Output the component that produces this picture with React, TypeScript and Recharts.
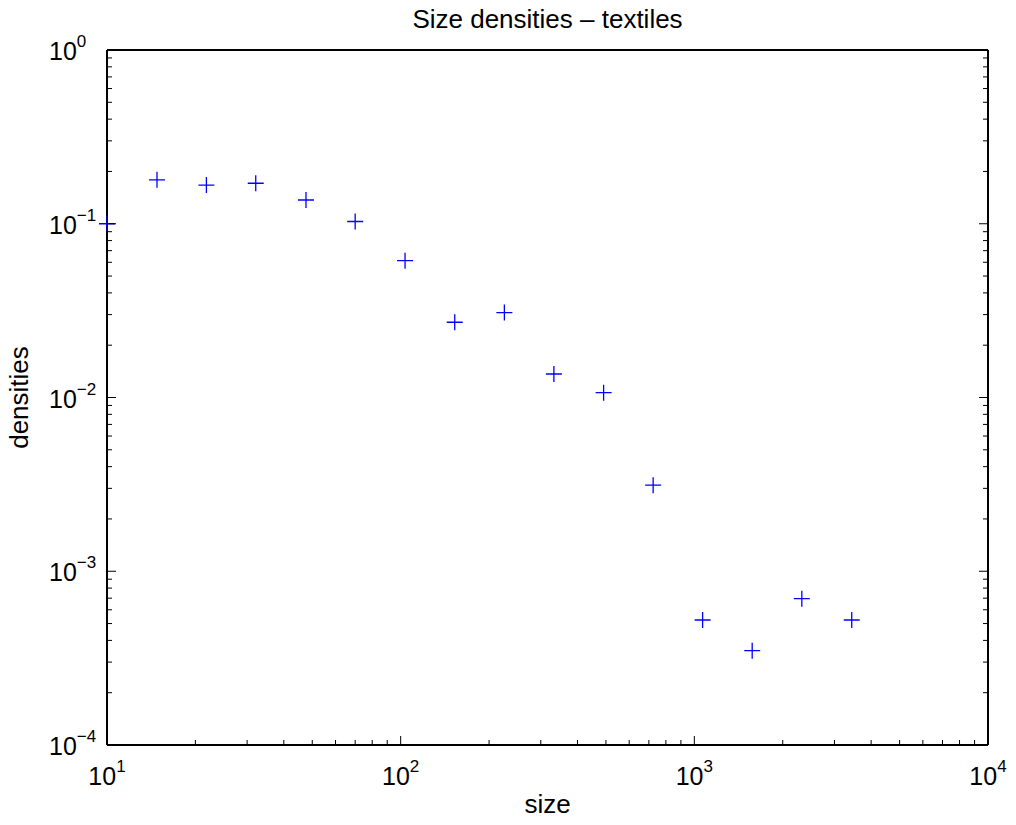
import React from "react";
import { ScatterChart, Scatter, XAxis, YAxis } from "recharts";

// size (x) and density (y)
const sizes = [10, 14.8, 21.8, 32.1, 47.6, 70, 103.5, 152.8, 225.5, 332.5, 491, 724, 1067, 1574, 2323, 3435];
const densities = [0.1, 0.179, 0.167, 0.171, 0.137, 0.103, 0.0613, 0.0271, 0.0308, 0.01365, 0.01066, 0.00313, 0.000524, 0.000349, 0.000695, 0.000524];

const xDecades = [10, 100, 1000, 10000];
const yDecades = [0.0001, 0.001, 0.01, 0.1, 1];
const minorSteps = [2, 3, 4, 5, 6, 7, 8, 9];

const withMinor = (decades: number[]) => {
  const out: number[] = [];
  decades.forEach((d, i) => {
    out.push(d);
    if (i < decades.length - 1) minorSteps.forEach((m) => out.push(+(d * m).toPrecision(6)));
  });
  return out;
};

const xTicks = withMinor(xDecades);
const yTicks = withMinor(yDecades);

const points = sizes.map((s, i) => ({ size: s, density: densities[i] }));

const FONT = "'Liberation Sans', Arial, Helvetica, sans-serif";
const MAJOR = 9;
const MINOR = 5;

const isMajor = (v: number) => Math.abs(Math.log10(v) - Math.round(Math.log10(v))) < 1e-6;
const expText = (v: number) => {
  const e = Math.round(Math.log10(v));
  return e < 0 ? "\u2212" + Math.abs(e) : String(e);
};

function BottomTick({ x, y, payload }: any) {
  const major = isMajor(payload.value);
  return (
    <g>
      <line x1={x} x2={x} y1={y} y2={y - (major ? MAJOR : MINOR)} stroke="#000" strokeWidth={1} />
      {major && (
        <text x={x} y={y + 40} textAnchor="middle" fontFamily={FONT} fontSize={25} fill="#000">
          10<tspan dy={-13} fontSize={17}>{expText(payload.value)}</tspan>
        </text>
      )}
    </g>
  );
}

function TopTick({ x, y, payload }: any) {
  const major = isMajor(payload.value);
  return <line x1={x} x2={x} y1={y} y2={y + (major ? MAJOR : MINOR)} stroke="#000" strokeWidth={1} />;
}

function LeftTick({ x, y, payload }: any) {
  const major = isMajor(payload.value);
  return (
    <g>
      <line x1={x} x2={x + (major ? MAJOR : MINOR)} y1={y} y2={y} stroke="#000" strokeWidth={1} />
      {major && (
        <text x={x - 58} y={y + 10} textAnchor="start" fontFamily={FONT} fontSize={25} fill="#000">
          10<tspan dy={-13} fontSize={17}>{expText(payload.value)}</tspan>
        </text>
      )}
    </g>
  );
}

function RightTick({ x, y, payload }: any) {
  const major = isMajor(payload.value);
  return <line x1={x} x2={x - (major ? MAJOR : MINOR)} y1={y} y2={y} stroke="#000" strokeWidth={1} />;
}

function TitleLabel({ viewBox }: any) {
  return (
    <text x={viewBox.x + viewBox.width / 2} y={viewBox.y - 12} textAnchor="middle" fontFamily={FONT} fontSize={26} fill="#000">
      Size densities – textiles
    </text>
  );
}

function XLabel({ viewBox }: any) {
  return (
    <text x={viewBox.x + viewBox.width / 2} y={viewBox.y + 68} textAnchor="middle" fontFamily={FONT} fontSize={26} fill="#000">
      size
    </text>
  );
}

function YLabel({ viewBox }: any) {
  const x = viewBox.x - 19;
  const y = viewBox.y + viewBox.height / 2;
  return (
    <text x={x} y={y} transform={`rotate(-90, ${x}, ${y})`} textAnchor="middle" fontFamily={FONT} fontSize={26} fill="#000">
      densities
    </text>
  );
}

function Plus({ cx, cy }: any) {
  if (cx == null || cy == null) return <g />;
  return <path d={`M${cx - 8},${cy}H${cx + 8}M${cx},${cy - 8}V${cy + 8}`} stroke="#0000ff" strokeWidth={1.3} fill="none" />;
}

export default function App() {
  const axisLine = { stroke: "#000", strokeWidth: 2 };
  return (
    <div style={{ position: "absolute", left: 0, top: 0, background: "#fff" }}>
      <ScatterChart width={1016} height={825} margin={{ top: 40, right: 18, bottom: 30, left: 47 }}>
        <XAxis
          xAxisId="bottom"
          dataKey="size"
          type="number"
          scale="log"
          domain={[10, 10000]}
          ticks={xTicks}
          interval={0}
          tick={<BottomTick />}
          tickLine={false}
          tickSize={0}
          tickMargin={0}
          axisLine={axisLine}
          height={50}
          label={<XLabel />}
        />
        <XAxis
          xAxisId="top"
          orientation="top"
          type="number"
          scale="log"
          domain={[10, 10000]}
          allowDataOverflow
          ticks={xTicks}
          interval={0}
          tick={<TopTick />}
          tickLine={false}
          tickSize={0}
          tickMargin={0}
          axisLine={axisLine}
          height={10}
          label={<TitleLabel />}
        />
        <YAxis
          yAxisId="left"
          dataKey="density"
          type="number"
          scale="log"
          domain={[0.0001, 1]}
          ticks={yTicks}
          interval={0}
          tick={<LeftTick />}
          tickLine={false}
          tickSize={0}
          tickMargin={0}
          axisLine={axisLine}
          width={60}
          label={<YLabel />}
        />
        <YAxis
          yAxisId="right"
          orientation="right"
          type="number"
          scale="log"
          domain={[0.0001, 1]}
          allowDataOverflow
          ticks={yTicks}
          interval={0}
          tick={<RightTick />}
          tickLine={false}
          tickSize={0}
          tickMargin={0}
          axisLine={axisLine}
          width={10}
        />
        <Scatter
          data={points}
          xAxisId="bottom"
          yAxisId="left"
          dataKey="density"
          shape={<Plus />}
          isAnimationActive={false}
        />
      </ScatterChart>
    </div>
  );
}
